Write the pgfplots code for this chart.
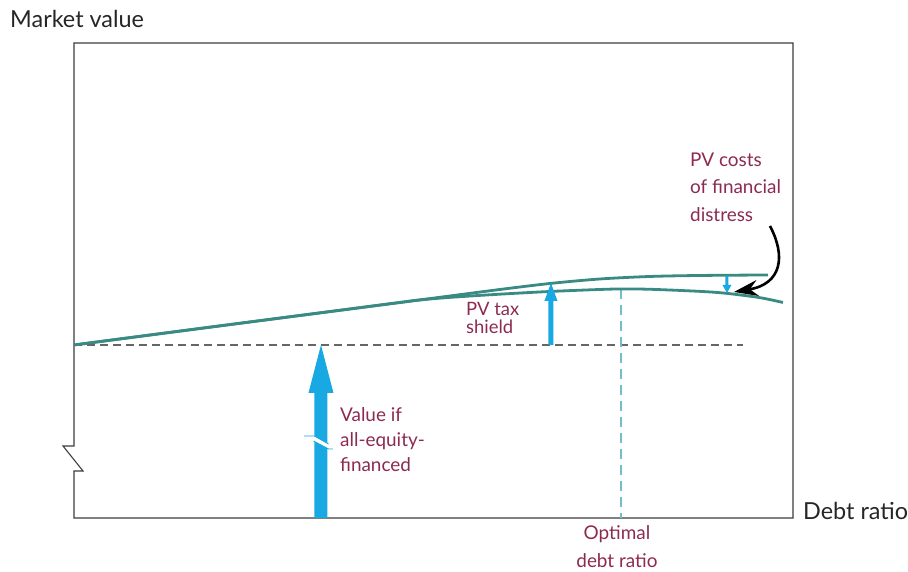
\documentclass[border=0pt]{standalone}
\usepackage{pgfplots}
\pgfplotsset{compat=1.18}
\usepackage{fontspec}
\setmainfont{Lato}
\usetikzlibrary{arrows.meta}

\definecolor{curveteal}{RGB}{58,138,132}
\definecolor{arrowblue}{RGB}{24,168,226}
\definecolor{labelred}{RGB}{140,42,82}
\definecolor{framegray}{RGB}{60,60,60}
\definecolor{optcyan}{RGB}{110,190,205}

% Firm value with the tax shield only (no distress costs)
\pgfplotstableread{
x     y
0     173
126   189.5
226   202.5
326   215.5
376   222
426   228.5
476   234.5
526   239
576   241.5
626   242.5
694   243
}\taxonly

% Firm value net of the costs of financial distress
\pgfplotstableread{
x     y
0     173
126   189.5
226   202.5
326   215.5
346   218
376   220.6
426   223.8
476   226.5
526   228.5
547   229
576   228.7
626   226.6
653   224.6
686   220.3
709   215.5
}\netvalue

\newcommand{\lbl}{\fontsize{19}{22}\selectfont\color{labelred}}
\newcommand{\smlbl}{\fontsize{18.5}{21}\selectfont\color{labelred}}
\newcommand{\axlbl}{\fontsize{23.5}{27}\selectfont\color{black!85}}

\begin{document}
\begin{tikzpicture}
\begin{axis}[
  scale only axis,
  width=908bp, height=572bp,
  xmin=-74, xmax=834, ymin=-54, ymax=518,
  hide axis, clip=false,
]
% picture extent
\path (axis cs:-74,-54) rectangle (axis cs:834,518);

% frame with the broken value axis
\draw[framegray, line width=1.1bp]
  (axis cs:0,475) -- (axis cs:719,475) -- (axis cs:719,0) -- (axis cs:0,0)
  -- (axis cs:0,47) -- (axis cs:9,47) -- (axis cs:-11,72) -- (axis cs:0,72)
  -- cycle;

% value if all-equity financed
\draw[black!60, line width=1.1bp, dash pattern=on 8bp off 5bp]
  (axis cs:0,173) -- (axis cs:669,173);

% optimal debt ratio
\draw[optcyan, line width=1.1bp, dash pattern=on 10bp off 6bp]
  (axis cs:547,229) -- (axis cs:547,0);

\addplot[curveteal, line width=2.8bp, smooth, tension=0.5] table[x=x,y=y] {\taxonly};
\addplot[curveteal, line width=2.8bp, smooth, tension=0.5] table[x=x,y=y] {\netvalue};

% large arrow: all-equity value
\fill[arrowblue] (axis cs:240.5,0) -- (axis cs:253.5,0) -- (axis cs:253.5,125)
  -- (axis cs:259.5,125) -- (axis cs:247,173) -- (axis cs:234.5,125)
  -- (axis cs:240.5,125) -- cycle;
% break in the large arrow
\fill[white] (axis cs:239.5,82) -- (axis cs:254.5,74) -- (axis cs:254.5,69)
  -- (axis cs:239.5,77) -- cycle;
\draw[arrowblue, line width=0.9bp] (axis cs:230,82) -- (axis cs:240.5,82)
  -- (axis cs:254.5,74);
\draw[arrowblue, line width=0.9bp] (axis cs:239.5,77) -- (axis cs:254.5,69)
  -- (axis cs:259,69);

% PV tax shield arrow
\fill[arrowblue] (axis cs:474.5,173) -- (axis cs:479.5,173) -- (axis cs:479.5,217)
  -- (axis cs:483.5,217) -- (axis cs:477,235) -- (axis cs:470.5,217)
  -- (axis cs:474.5,217) -- cycle;

% PV distress costs arrow
\fill[arrowblue] (axis cs:651.5,242) -- (axis cs:654.5,242) -- (axis cs:654.5,233)
  -- (axis cs:657.5,233) -- (axis cs:653,225) -- (axis cs:648.5,233)
  -- (axis cs:651.5,233) -- cycle;

% pointer to the distress gap
\draw[black, line width=2.6bp, -{Stealth[length=24bp,width=16bp]}]
  (axis cs:696,292) .. controls (axis cs:712,262) and (axis cs:708,234)
  .. (axis cs:660,226);

% axis titles
\node[anchor=base west, inner sep=0pt] at (axis cs:-64,490) {\axlbl Market value};
\node[anchor=base west, inner sep=0pt] at (axis cs:729,-2) {\axlbl Debt ratio};

% annotations
\node[anchor=base, inner sep=0pt] at (axis cs:543,-22) {\lbl Optimal};
\node[anchor=base, inner sep=0pt] at (axis cs:543,-50) {\lbl debt ratio};

\node[anchor=base west, inner sep=0pt] at (axis cs:266,96) {\lbl Value if};
\node[anchor=base west, inner sep=0pt] at (axis cs:266,71) {\lbl all-equity-};
\node[anchor=base west, inner sep=0pt] at (axis cs:266,46) {\lbl financed};

\node[anchor=base west, inner sep=0pt] at (axis cs:392,202) {\smlbl PV tax};
\node[anchor=base west, inner sep=0pt] at (axis cs:392,184) {\smlbl shield};

\node[anchor=base west, inner sep=0pt] at (axis cs:616,351) {\lbl PV costs};
\node[anchor=base west, inner sep=0pt] at (axis cs:616,324) {\lbl of financial};
\node[anchor=base west, inner sep=0pt] at (axis cs:616,296) {\lbl distress};
\end{axis}
\end{tikzpicture}
\end{document}
